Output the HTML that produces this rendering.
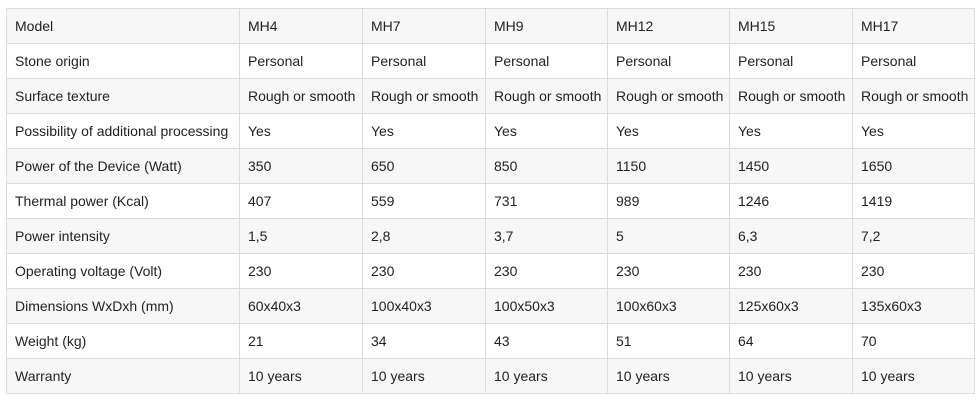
<!DOCTYPE html>
<html><head><style>
body{margin:0;background:#fff;width:979px;height:400px;overflow:hidden}
table{position:absolute;left:6px;top:8px;border-collapse:collapse;font-family:"Liberation Sans",sans-serif;font-size:14px;color:#222}
td{border:1px solid #dcdcdc;height:35px;padding:0 0 0 8px;box-sizing:border-box;white-space:nowrap}
tr:nth-child(odd) td{background:#f7f7f7}
</style></head><body>
<table>
<colgroup><col style="width:233px"><col style="width:123px"><col style="width:123px"><col style="width:122px"><col style="width:122px"><col style="width:123px"><col style="width:122px"></colgroup>
<tr><td>Model</td><td>MH4</td><td>MH7</td><td>MH9</td><td>MH12</td><td>MH15</td><td>MH17</td></tr>
<tr><td>Stone origin</td><td>Personal</td><td>Personal</td><td>Personal</td><td>Personal</td><td>Personal</td><td>Personal</td></tr>
<tr><td>Surface texture</td><td>Rough or smooth</td><td>Rough or smooth</td><td>Rough or smooth</td><td>Rough or smooth</td><td>Rough or smooth</td><td>Rough or smooth</td></tr>
<tr><td>Possibility of additional processing</td><td>Yes</td><td>Yes</td><td>Yes</td><td>Yes</td><td>Yes</td><td>Yes</td></tr>
<tr><td>Power of the Device (Watt)</td><td>350</td><td>650</td><td>850</td><td>1150</td><td>1450</td><td>1650</td></tr>
<tr><td>Thermal power (Kcal)</td><td>407</td><td>559</td><td>731</td><td>989</td><td>1246</td><td>1419</td></tr>
<tr><td>Power intensity</td><td>1,5</td><td>2,8</td><td>3,7</td><td>5</td><td>6,3</td><td>7,2</td></tr>
<tr><td>Operating voltage (Volt)</td><td>230</td><td>230</td><td>230</td><td>230</td><td>230</td><td>230</td></tr>
<tr><td>Dimensions WxDxh (mm)</td><td>60x40x3</td><td>100x40x3</td><td>100x50x3</td><td>100x60x3</td><td>125x60x3</td><td>135x60x3</td></tr>
<tr><td>Weight (kg)</td><td>21</td><td>34</td><td>43</td><td>51</td><td>64</td><td>70</td></tr>
<tr><td>Warranty</td><td>10 years</td><td>10 years</td><td>10 years</td><td>10 years</td><td>10 years</td><td>10 years</td></tr>
</table>
</body></html>
